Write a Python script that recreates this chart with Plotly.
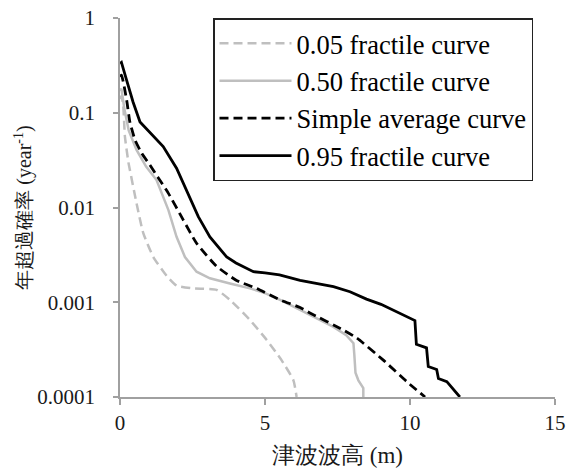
import plotly.graph_objects as go

# ---- data ----
p05_x = [0, 0.05, 0.11, 0.17, 0.29, 0.34, 0.57, 0.80, 1.15, 1.61, 1.95, 2.53, 3.33, 3.79, 4.48, 5.06, 5.57, 5.98, 6.09]
p05_y = [0.14, 0.15, 0.12, 0.056, 0.03, 0.025, 0.0111, 0.0054, 0.003, 0.0019, 0.0015, 0.0014, 0.00135, 0.00106, 0.00065, 0.0004, 0.000245, 0.00015, 0.0001]

p50_x = [0, 0.05, 0.15, 0.3, 0.57, 0.9, 1.26, 1.67, 1.95, 2.24, 2.64, 3.10, 3.79, 4.48, 5.0, 5.52, 6.21, 7.36, 7.8, 8.05, 8.08, 8.12, 8.22, 8.39, 8.39]
p50_y = [0.17, 0.18, 0.11, 0.065, 0.0405, 0.027, 0.0195, 0.0094, 0.0049, 0.003, 0.0021, 0.00179, 0.00158, 0.0014, 0.00125, 0.00106, 0.00083, 0.00055, 0.00045, 0.00037, 0.00028, 0.00018, 0.00015, 0.000124, 0.0001]

avg_x = [0, 0.05, 0.23, 0.34, 0.52, 0.75, 1.03, 1.30, 1.67, 2.18, 2.64, 3.33, 4.02, 4.71, 5.52, 6.21, 6.55, 7.70, 8.16, 9.08, 9.89, 10.52]
avg_y = [0.24, 0.25, 0.136, 0.08, 0.0515, 0.0373, 0.0281, 0.021, 0.0141, 0.0074, 0.0042, 0.0024, 0.0017, 0.0014, 0.00106, 0.00088, 0.00077, 0.00051, 0.00042, 0.000245, 0.000145, 0.0001]

p95_x = [0, 0.05, 0.23, 0.45, 0.69, 1.09, 1.49, 1.95, 2.30, 2.70, 3.10, 3.45, 3.68, 4.0, 4.6, 5.0, 5.5, 6.21, 6.55, 7.36, 7.93, 8.5, 9.0, 9.66, 10.17, 10.22, 10.57, 10.63, 10.92, 10.98, 11.27, 11.72]
p95_y = [0.33, 0.34, 0.22, 0.13, 0.08, 0.06, 0.044, 0.026, 0.0153, 0.008, 0.0049, 0.0037, 0.003, 0.0026, 0.0021, 0.00204, 0.00194, 0.0017, 0.00163, 0.00146, 0.00129, 0.00108, 0.00095, 0.00076, 0.00064, 0.00036, 0.00033, 0.00021, 0.000195, 0.000157, 0.000145, 0.0001]

series_names = ["0.05 fractile curve", "0.50 fractile curve", "Simple average curve", "0.95 fractile curve"]

y_tickvals = [0.0001, 0.001, 0.01, 0.1, 1]
y_ticktext = ["0.0001", "0.001", "0.01", "0.1", "1"]
x_tickvals = [0, 5, 10, 15]

SERIF = "Liberation Serif"
GRAY = "#BFBFBF"
AXIS = "#A0A0A0"
TXT = "#1a1a1a"

fig = go.Figure()
fig.add_trace(go.Scatter(x=p05_x, y=p05_y, mode="lines", name=series_names[0],
                         line=dict(color=GRAY, width=2.5, dash="9px,5px", shape="spline", smoothing=0.5)))
fig.add_trace(go.Scatter(x=p50_x, y=p50_y, mode="lines", name=series_names[1],
                         line=dict(color=GRAY, width=2.5)))
fig.add_trace(go.Scatter(x=avg_x, y=avg_y, mode="lines", name=series_names[2],
                         line=dict(color="black", width=2.8, dash="9px,5px", shape="spline", smoothing=0.5)))
fig.add_trace(go.Scatter(x=p95_x, y=p95_y, mode="lines", name=series_names[3],
                         line=dict(color="black", width=2.8)))

fig.update_layout(
    width=566, height=468,
    margin=dict(l=120, r=11, t=18, b=71, autoexpand=False),
    paper_bgcolor="white", plot_bgcolor="white",
    font=dict(family=SERIF, size=21, color=TXT),
    showlegend=True,
    legend=dict(
        x=0.2138, xanchor="left", y=1.0, yanchor="top",
        bgcolor="white", bordercolor="#222222", borderwidth=1.5,
        font=dict(family=SERIF, size=26.5, color="black"),
        itemwidth=72, tracegroupgap=0,
        entrywidth=345, entrywidthmode="pixels",
    ),
    xaxis=dict(
        range=[0, 15], tickvals=x_tickvals, ticks="outside", ticklen=6,
        tickcolor=AXIS, tickwidth=1.5, showline=True, linecolor=AXIS, linewidth=1.5,
        showgrid=False, zeroline=False, ticklabelstandoff=0, automargin=False,
        ticklabeloverflow="allow",
        tickfont=dict(family=SERIF, size=21, color=TXT),
        title=dict(text="津波波高 (m)", standoff=18,
                   font=dict(family=SERIF, size=23, color=TXT)),
    ),
    yaxis=dict(
        type="log", range=[-4, 0], tickvals=y_tickvals, ticktext=y_ticktext,
        ticks="outside", ticklen=5, tickcolor=AXIS, tickwidth=1.5,
        showline=True, linecolor=AXIS, linewidth=1.5, showgrid=False, zeroline=False,
        ticklabelstandoff=14, automargin=False, ticklabeloverflow="allow",
        tickfont=dict(family=SERIF, size=21, color=TXT),
        title=dict(text="年超過確率 (year<sup>-1</sup>)", standoff=0,
                   font=dict(family=SERIF, size=20, color=TXT)),
    ),
)

fig.write_html(
    "out.html",
    config={"displayModeBar": False},
    post_script="document.body.style.margin='0';document.body.style.overflow='hidden';",
)
